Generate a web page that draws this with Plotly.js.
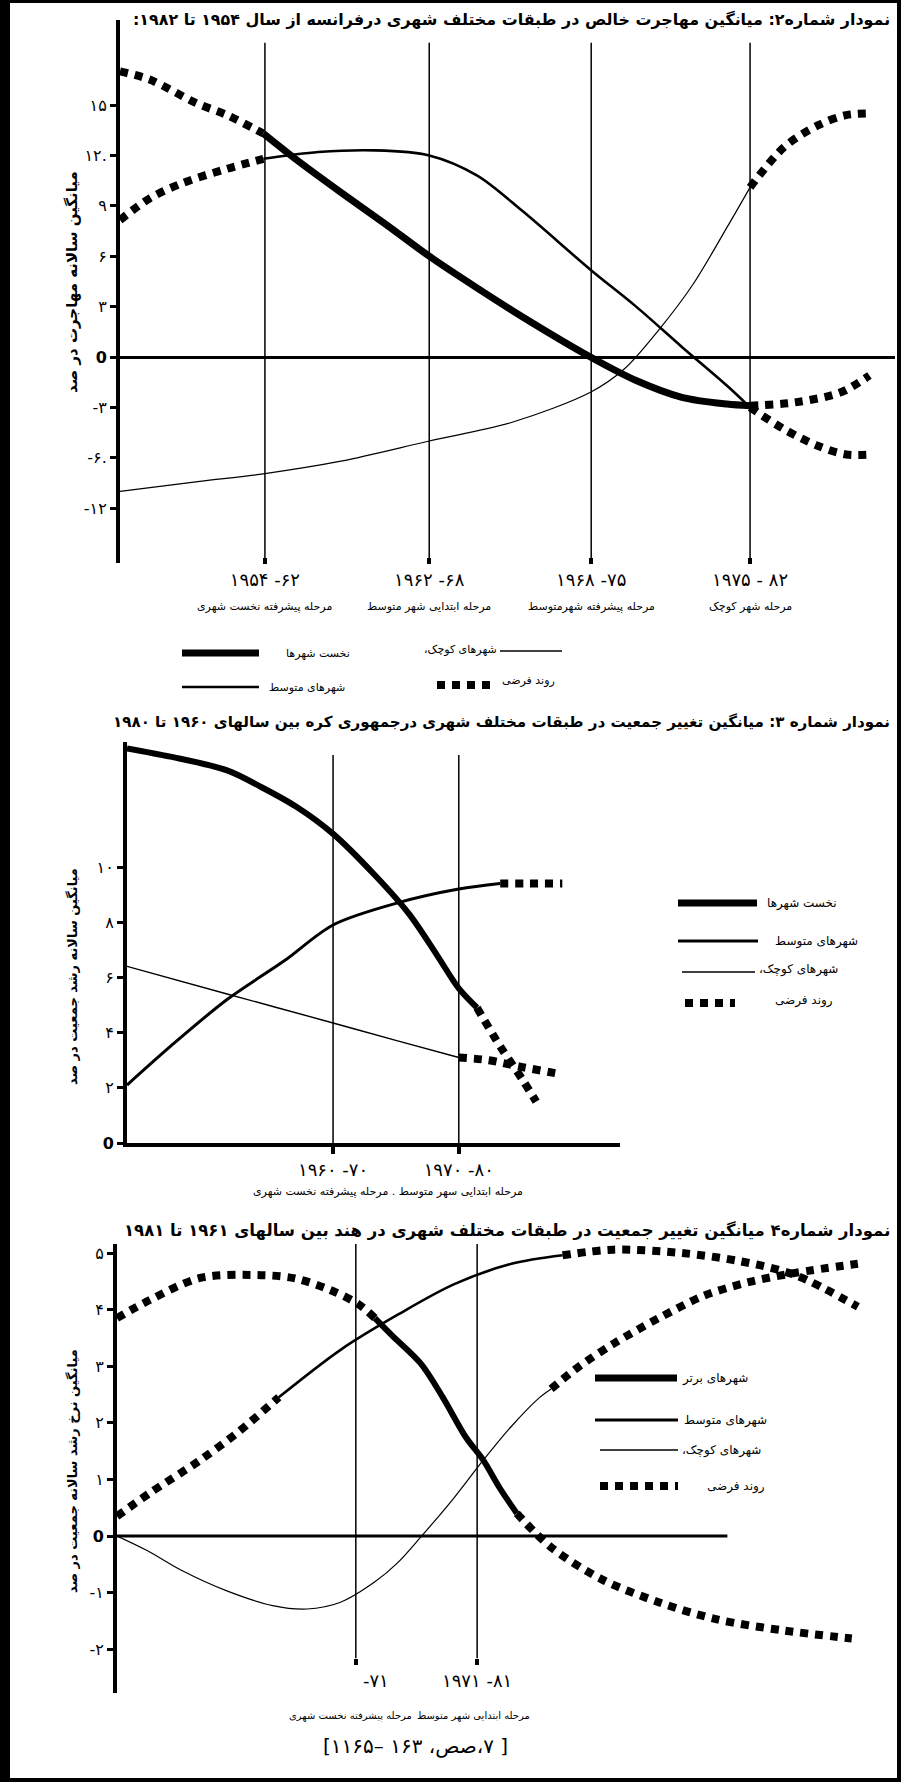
<!DOCTYPE html>
<html><head><meta charset="utf-8">
<script src="https://cdn.plot.ly/plotly-3.0.1.min.js"></script>
<style>html,body{margin:0;padding:0;background:#fff}#chart{width:901px;height:1782px}</style>
</head><body><div id="chart"></div>
<script>
// ---------- Panel 1 : France (net migration) ----------
const p1StageX = [18.7, 39.9, 60.8, 81.3];
const p1StageYears = ['۱۹۵۴ -۶۲', '۱۹۶۲ -۶۸', '۱۹۶۸ -۷۵', '۱۹۷۵ - ۸۲'];
const p1StageNames = ['مرحله پیشرفته نخست شهری', 'مرحله ابتدایی شهر متوسط', 'مرحله پیشرفته شهرمتوسط', 'مرحله شهر کوچک'];
const p1TickVals = [15, 12, 9, 6, 3, 0, -3, -6, -9];
const p1TickText = ['۱۵', '۱۲.', '۹', '۶', '۳', '<b>0</b>', '-۳', '-۶.', '-۱۲'];

const p1PrimateX = [0, 3.9, 9.9, 13.8, 18.5, 22.6, 28.5, 34.3, 39.9, 46.1, 51.9, 60.7, 66.6, 72.5, 78.3, 81.3, 87.1, 93.0, 96.7];
const p1PrimateY = [17.0, 16.5, 15.1, 14.4, 13.3, 11.8, 9.8, 7.9, 6.0, 4.1, 2.4, 0.0, -1.4, -2.4, -2.8, -2.9, -2.7, -2.1, -1.1];
const p1PrimatePh = ['h','h','h','h','s','s','s','s','s','s','s','s','s','s','s','s','h','h','h'];

const p1MediumX = [0, 3.9, 8.1, 13.8, 18.5, 25.6, 32.9, 39.9, 46.1, 51.9, 60.7, 66.6, 72.5, 78.3, 81.3, 85.7, 90.1, 93.7, 97.1];
const p1MediumY = [8.15, 9.46, 10.36, 11.2, 11.8, 12.2, 12.3, 12.0, 10.8, 8.7, 5.2, 3.0, 0.6, -1.7, -3.0, -4.3, -5.3, -5.8, -5.8];
const p1MediumPh = ['h','h','h','h','s','s','s','s','s','s','s','s','s','s','s','h','h','h','h'];

const p1SmallX = [0, 10.3, 18.5, 28.5, 39.9, 50.5, 60.7, 65.1, 69.5, 73.9, 78.3, 81.3, 85.7, 90.1, 93.7, 97.1];
const p1SmallY = [-8.0, -7.4, -6.95, -6.2, -5.0, -3.9, -2.1, -0.7, 1.6, 4.3, 7.7, 10.1, 12.5, 13.8, 14.4, 14.5];
const p1SmallPh = ['s','s','s','s','s','s','s','s','s','s','s','s','h','h','h','h'];

// ---------- Panel 2 : Korea ----------
const p2StageX = [41.8, 67.3];
const p2StageYears = ['۱۹۶۰ -۷۰', '۱۹۷۰ -۸۰'];
const p2TickVals = [0, 2, 4, 6, 8, 10];
const p2TickText = ['<b>0</b>', '۲', '۴', '۶', '۸', '۱۰'];

const p2PrimateX = [0, 8.8, 20.3, 27.2, 34.2, 41.8, 50.3, 57.2, 62.9, 67.3, 71.0, 75.7, 80.2, 83.0];
const p2PrimateY = [14.3, 14.0, 13.5, 12.9, 12.2, 11.2, 9.7, 8.3, 6.8, 5.6, 4.9, 3.5, 2.3, 1.5];
const p2PrimatePh = ['s','s','s','s','s','s','s','s','s','s','s','h','h','h'];

const p2MediumX = [0, 8.8, 20.3, 31.9, 41.8, 54.9, 67.3, 75.7, 81.0, 88.3];
const p2MediumY = [2.1, 3.5, 5.2, 6.6, 7.9, 8.7, 9.2, 9.4, 9.4, 9.4];
const p2MediumPh = ['s','s','s','s','s','s','s','s','h','h'];

const p2SmallX = [0, 20.3, 41.8, 54.9, 67.3, 73.3, 80.2, 87.8];
const p2SmallY = [6.4, 5.4, 4.35, 3.7, 3.1, 3.0, 2.75, 2.5];
const p2SmallPh = ['s','s','s','s','s','h','h','h'];

// ---------- Panel 3 : India ----------
const p3StageX = [31.3, 47.2];
const p3StageYears = ['\u00a0\u00a0\u00a0\u00a0\u00a0\u00a0\u00a0-۷۱', '۱۹۷۱ -۸۱'];
const p3TickVals = [5, 4, 3, 2, 1, 0, -1, -2];
const p3TickText = ['۵', '۴', '۳', '۲', '۱', '<b>0</b>', '-۱', '-۲'];

const p3PrimateX = [0, 4.3, 10.9, 18.9, 23.4, 27.9, 31.6, 33.8, 36.0, 39.8, 42.7, 45.7, 48.0, 50.2, 52.4, 56.9, 63.6, 71.0, 78.5, 87.4, 96.3];
const p3PrimateY = [3.85, 4.17, 4.56, 4.61, 4.55, 4.35, 4.1, 3.85, 3.55, 3.05, 2.45, 1.75, 1.34, 0.84, 0.4, -0.2, -0.77, -1.17, -1.47, -1.67, -1.81];
const p3PrimatePh = ['h','h','h','h','h','h','h','s','s','s','s','s','s','s','s','h','h','h','h','h','h'];

const p3MediumX = [0, 4.3, 10.9, 16.0, 21.2, 29.3, 36.8, 44.2, 51.7, 58.4, 65.1, 74.0, 81.5, 88.9, 97.1];
const p3MediumY = [0.35, 0.76, 1.34, 1.85, 2.45, 3.29, 3.91, 4.45, 4.81, 4.96, 5.06, 5.0, 4.86, 4.61, 4.05];
const p3MediumPh = ['h','h','h','h','s','s','s','s','s','s','h','h','h','h','h'];

const p3SmallX = [0, 4.0, 8.5, 14.4, 20.4, 24.9, 29.3, 33.8, 36.8, 39.8, 44.2, 48.0, 51.7, 55.4, 56.9, 60.6, 65.1, 71.0, 77.0, 82.9, 88.9, 97.1];
const p3SmallY = [0, -0.26, -0.61, -0.97, -1.23, -1.29, -1.17, -0.81, -0.47, -0.02, 0.68, 1.34, 1.94, 2.45, 2.6, 3.0, 3.4, 3.85, 4.25, 4.49, 4.65, 4.81];
const p3SmallPh = ['s','s','s','s','s','s','s','s','s','s','s','s','s','s','s','h','h','h','h','h','h','h'];

// ---------- texts ----------
const titles = [
  'نمودار شماره۲: میانگین مهاجرت خالص در طبقات مختلف شهری درفرانسه از سال ۱۹۵۴ تا ۱۹۸۲:',
  'نمودار شماره ۳: میانگین تغییر جمعیت در طبقات مختلف شهری درجمهوری کره بین سالهای ۱۹۶۰ تا ۱۹۸۰',
  'نمودار شماره۴ میانگین تغییر جمعیت در طبقات مختلف شهری در هند بین سالهای ۱۹۶۱ تا ۱۹۸۱'
];
const yTitles = ['میانگین سالانه مهاجرت در صد', 'میانگین سالانه رشد جمعیت در صد', 'میانگین نرخ رشد سالانه جمعیت در صد'];
const legendNames1 = ['نخست شهرها', 'شهرهای متوسط', 'شهرهای کوچک،', 'روند فرضی'];
const legendNames3 = ['شهرهای برتر', 'شهرهای متوسط', 'شهرهای کوچک،', 'روند فرضی'];
const p2StageNote = 'مرحله ابتدایی سهر متوسط . مرحله پیشرفته نخست شهری';
const p3StageNames = ['مرحله پیشرفته نخست شهری', 'مرحله ابتدایی شهر متوسط'];
const citation = '[ ۷،صص، ۱۶۳ –۱۱۶۵]';

// ---------- helpers ----------
const W = 901, H = 1782;
const px = x => x / W, py = y => 1 - y / H;
const rtl = s => '\u202B' + s + '\u202C';
const FONT = 'DejaVu Sans';
const HYP = {width: 8, dash: '8px,7px'};

function segments(xs, ys, ph) {
  const segs = []; let cur = null;
  for (let i = 0; i < xs.length - 1; i++) {
    const st = (ph[i] === 's' && ph[i + 1] === 's') ? 's' : 'h';
    if (!cur || cur.st !== st) { cur = {st, x: [xs[i]], y: [ys[i]]}; segs.push(cur); }
    cur.x.push(xs[i + 1]); cur.y.push(ys[i + 1]);
  }
  return segs;
}
const traces = [];
function addSeries(xs, ys, ph, w, ax, name) {
  segments(xs, ys, ph).forEach(s => {
    traces.push({
      type: 'scatter', mode: 'lines', x: s.x, y: s.y, name: name,
      xaxis: ax[0], yaxis: ax[1], showlegend: false, hoverinfo: 'skip',
      line: {color: '#000', shape: 'spline', smoothing: 0.9,
             width: s.st === 's' ? w : HYP.width, dash: s.st === 's' ? 'solid' : HYP.dash}
    });
  });
}
addSeries(p1PrimateX, p1PrimateY, p1PrimatePh, 7, ['x', 'y'], legendNames1[0]);
addSeries(p1MediumX, p1MediumY, p1MediumPh, 2.6, ['x', 'y'], legendNames1[1]);
addSeries(p1SmallX, p1SmallY, p1SmallPh, 1.2, ['x', 'y'], legendNames1[2]);
addSeries(p2PrimateX, p2PrimateY, p2PrimatePh, 6, ['x2', 'y2'], legendNames1[0]);
addSeries(p2MediumX, p2MediumY, p2MediumPh, 3, ['x2', 'y2'], legendNames1[1]);
addSeries(p2SmallX, p2SmallY, p2SmallPh, 1.4, ['x2', 'y2'], legendNames1[2]);
addSeries(p3PrimateX, p3PrimateY, p3PrimatePh, 6, ['x3', 'y3'], legendNames3[0]);
addSeries(p3MediumX, p3MediumY, p3MediumPh, 2.6, ['x3', 'y3'], legendNames3[1]);
addSeries(p3SmallX, p3SmallY, p3SmallPh, 1.2, ['x3', 'y3'], legendNames3[2]);

const tickFontY = {family: FONT, size: 16, color: '#000'};
const tickFontX = {family: FONT, size: 18, color: '#000'};
const baseX = {range: [0, 100], showgrid: false, zeroline: false, tickmode: 'array',
  ticks: 'outside', ticklen: 6, tickwidth: 4, tickcolor: '#000', tickfont: tickFontX, fixedrange: true};
const baseY = {showgrid: false, tickmode: 'array', showline: true, linewidth: 4, linecolor: '#000',
  ticks: 'outside', ticklen: 6, tickwidth: 3, tickcolor: '#000', tickfont: tickFontY, fixedrange: true};

const shapes = [];
const annotations = [];
function hline(x0, x1, y, w, dash) {
  shapes.push({type: 'line', xref: 'paper', yref: 'paper', x0: px(x0), x1: px(x1), y0: py(y), y1: py(y),
    line: {color: '#000', width: w, dash: dash || 'solid'}});
}
function label(x, y, text, size, anchor, extra, weight) {
  annotations.push(Object.assign({xref: 'paper', yref: 'paper', x: px(x), y: py(y), text: rtl(text),
    showarrow: false, xanchor: anchor || 'center', yanchor: 'middle',
    font: {family: FONT, size: size, color: '#000', weight: weight || 'normal'}}, extra || {}));
}
// frame
shapes.push({type: 'line', xref: 'paper', yref: 'paper', x0: px(5), x1: px(5), y0: 0, y1: 1, line: {color: '#000', width: 10}});
shapes.push({type: 'line', xref: 'paper', yref: 'paper', x0: 0, x1: 1, y0: py(1.5), y1: py(1.5), line: {color: '#000', width: 3}});
shapes.push({type: 'line', xref: 'paper', yref: 'paper', x0: px(899), x1: px(899), y0: 0, y1: 1, line: {color: '#000', width: 4}});
shapes.push({type: 'line', xref: 'paper', yref: 'paper', x0: 0, x1: 1, y0: py(1780), y1: py(1780), line: {color: '#000', width: 4}});

// stage lines
p1StageX.forEach(v => shapes.push({type: 'line', xref: 'x', yref: 'y', x0: v, x1: v, y0: -12.0, y1: 18.7, line: {color: '#000', width: 1.5}}));
p2StageX.forEach(v => shapes.push({type: 'line', xref: 'x2', yref: 'y2', x0: v, x1: v, y0: 0, y1: 14.06, line: {color: '#000', width: 1.5}}));
p3StageX.forEach(v => shapes.push({type: 'line', xref: 'x3', yref: 'y3', x0: v, x1: v, y0: -2.16, y1: 5.16, line: {color: '#000', width: 1.5}}));
// panel 3 zero line
shapes.push({type: 'line', xref: 'x3', yref: 'y3', x0: 0, x1: 80, y0: 0, y1: 0, line: {color: '#000', width: 3}});

// titles
label(892, 20, titles[0], 15.9, 'right', {}, 'bold');
label(892, 722, titles[1], 15.1, 'right', {}, 'bold');
label(892, 1230, titles[2], 16.5, 'right', {}, 'bold');
// y titles
label(72, 282, yTitles[0], 15, 'center', {textangle: -90}, 'bold');
label(72, 977, yTitles[1], 13, 'center', {textangle: -90}, 'bold');
label(72, 1471, yTitles[2], 13, 'center', {textangle: -90}, 'bold');
// stage names
p1StageX.forEach((v, i) => annotations.push({xref: 'x', yref: 'paper', x: v, y: py(606), text: rtl(p1StageNames[i]),
  showarrow: false, xanchor: 'center', yanchor: 'middle', font: {family: FONT, size: 11, color: '#000'}}));
label(388, 1191, p2StageNote, 11);
label(350, 1716, p3StageNames[0], 10);
label(474, 1716, p3StageNames[1], 10);
label(415, 1746, citation, 20);

// legends
// panel 1
hline(182, 259, 653, 7); label(284, 653, legendNames1[0], 11, 'left');
hline(182, 259, 687, 2.6); label(267, 687, legendNames1[1], 11, 'left');
hline(500, 562, 651, 1.4); label(499, 649, legendNames1[2], 11, 'right');
hline(437, 494, 685, HYP.width, HYP.dash); label(500, 680, legendNames1[3], 11, 'left');
// panel 2
hline(678, 757, 903, 7); label(765, 903, legendNames1[0], 12, 'left');
hline(678, 758, 941, 3); label(773, 941, legendNames1[1], 12, 'left');
hline(682, 755, 972, 1.4); label(757, 970, legendNames1[2], 12, 'left');
hline(685, 735, 1003, HYP.width, HYP.dash); label(773, 1000, legendNames1[3], 12, 'left');
// panel 3
hline(595, 677, 1378, 7); label(680, 1378, legendNames3[0], 12, 'left');
hline(595, 678, 1420, 3); label(682, 1420, legendNames3[1], 12, 'left');
hline(600, 678, 1450, 1.4); label(680, 1450, legendNames3[2], 12, 'left');
hline(600, 678, 1486, HYP.width, HYP.dash); label(705, 1486, legendNames3[3], 12, 'left');

const layout = {
  width: W, height: H, margin: {l: 0, r: 0, t: 0, b: 0},
  paper_bgcolor: '#fff', plot_bgcolor: 'rgba(0,0,0,0)', showlegend: false,
  font: {family: FONT, color: '#000'},
  xaxis: Object.assign({}, baseX, {domain: [px(120), px(895)], anchor: 'free', position: py(557),
    showline: false, tickvals: p1StageX, ticktext: p1StageYears}),
  yaxis: Object.assign({}, baseY, {domain: [py(563), py(20)], range: [-12.26, 20.06], anchor: 'x',
    tickvals: p1TickVals, ticktext: p1TickText, zeroline: true, zerolinewidth: 3, zerolinecolor: '#000'}),
  xaxis2: Object.assign({}, baseX, {domain: [px(127), px(620)], anchor: 'y2', showline: true, linewidth: 4,
    linecolor: '#000', ticklen: 7, tickvals: p2StageX, ticktext: p2StageYears}),
  yaxis2: Object.assign({}, baseY, {domain: [py(1143), py(742)], range: [0, 14.53], anchor: 'x2',
    tickvals: p2TickVals, ticktext: p2TickText, zeroline: false}),
  xaxis3: Object.assign({}, baseX, {domain: [px(117), px(880)], anchor: 'free', position: py(1658),
    showline: false, tickvals: p3StageX, ticktext: p3StageYears}),
  yaxis3: Object.assign({}, baseY, {domain: [py(1693), py(1244)], range: [-2.774, 5.16], anchor: 'x3',
    tickvals: p3TickVals, ticktext: p3TickText, zeroline: false}),
  shapes: shapes, annotations: annotations
};
Plotly.newPlot('chart', traces, layout, {staticPlot: true, displayModeBar: false});
</script></body></html>
